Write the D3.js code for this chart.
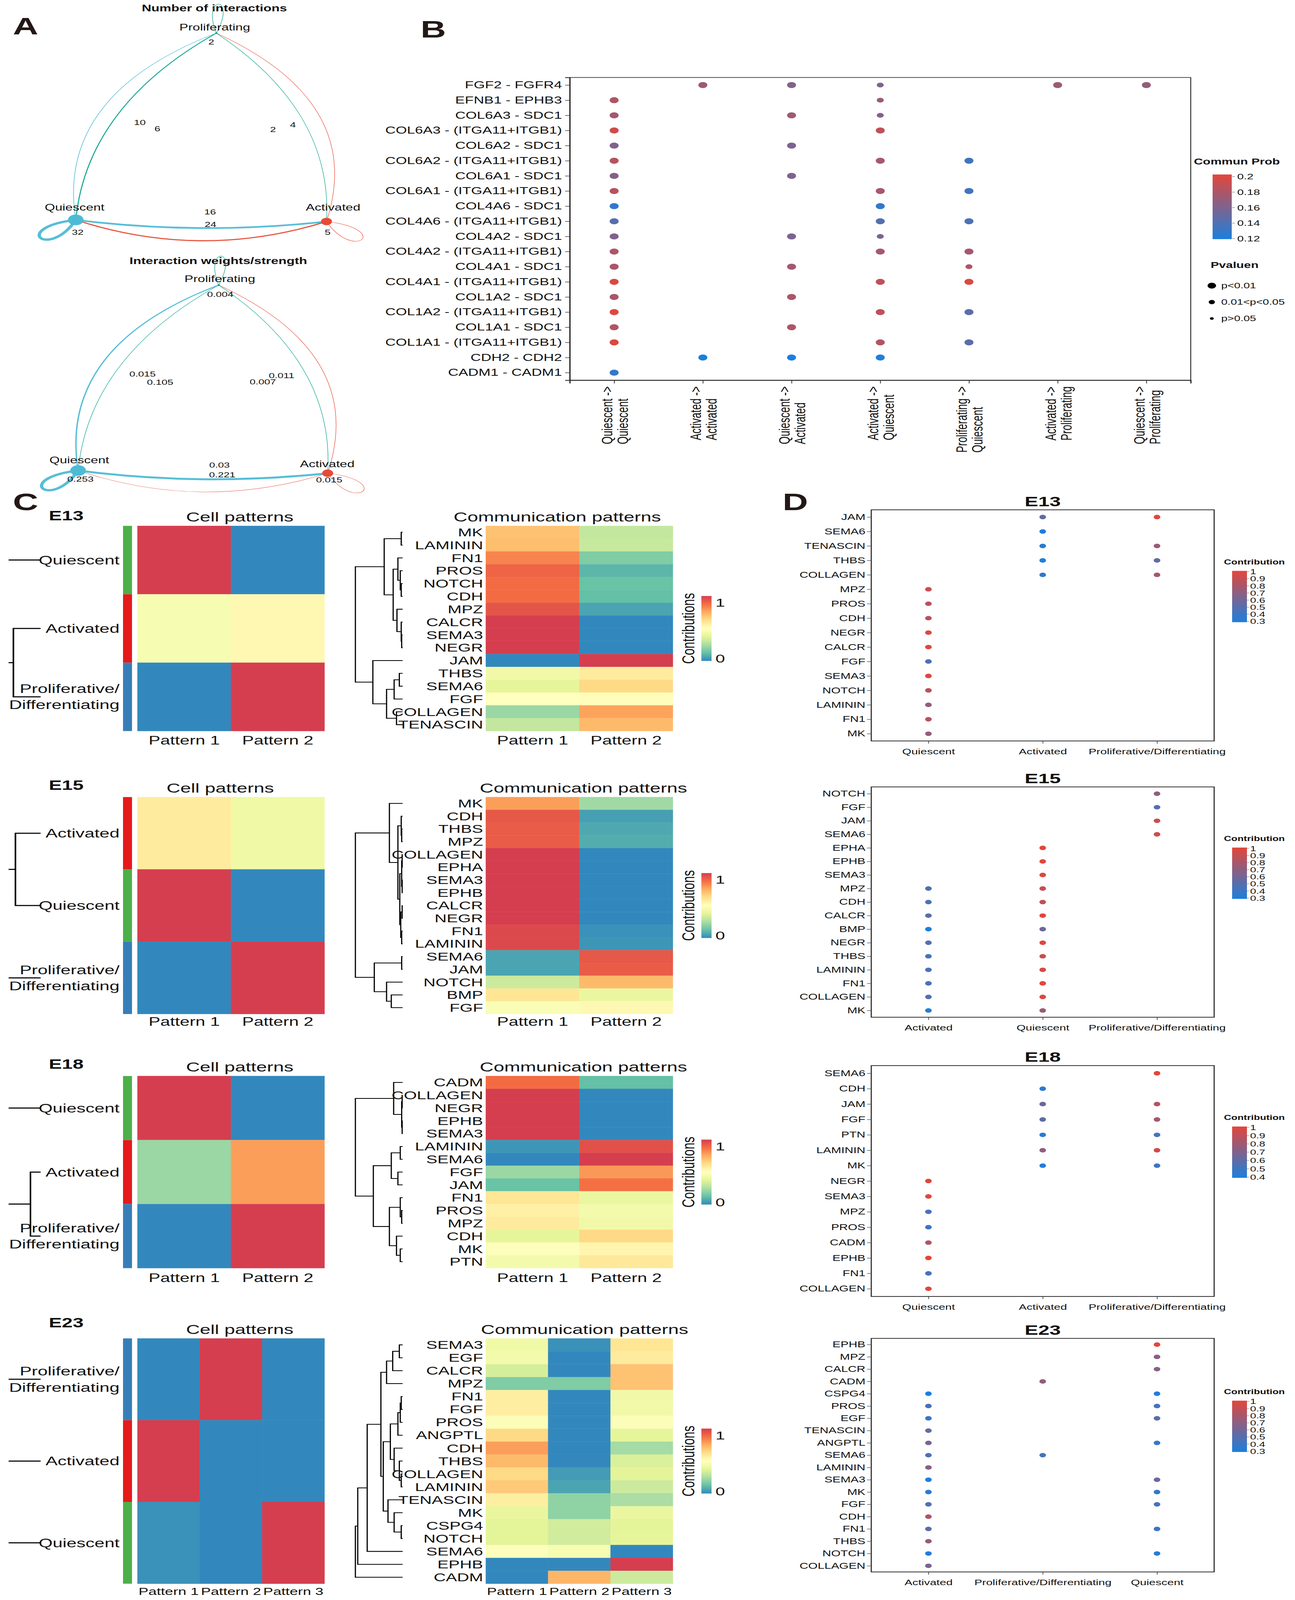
<!DOCTYPE html>
<html><head><meta charset="utf-8">
<script src="https://cdn.jsdelivr.net/npm/d3@7"></script>
<style>html,body{margin:0;padding:0;background:#fff;overflow:hidden}svg{display:block}</style>
</head><body><script>
// ===================== DATA =====================
// Panel A: cell-cell communication network
const netGroups = ["Quiescent","Activated","Proliferating"];
const netColors = ["#4DBBD5","#E64B35","#00A087"];
const netGroupSize = [1, 0.49, 0.0225];
const edgeSource = ["Quiescent","Quiescent","Activated","Proliferating","Quiescent","Activated","Proliferating","Activated","Proliferating"];
const edgeTarget = ["Quiescent","Activated","Quiescent","Quiescent","Proliferating","Proliferating","Activated","Activated","Proliferating"];
const edgeCount  = [32, 24, 16, 10, 6, 4, 2, 5, 2];
const edgeWeight = [0.253, 0.221, 0.03, 0.015, 0.105, 0.011, 0.007, 0.015, 0.004];

// Panel B: L-R bubble plot
const lrPairs = ["FGF2 - FGFR4","EFNB1 - EPHB3","COL6A3 - SDC1","COL6A3 - (ITGA11+ITGB1)","COL6A2 - SDC1","COL6A2 - (ITGA11+ITGB1)","COL6A1 - SDC1","COL6A1 - (ITGA11+ITGB1)","COL4A6 - SDC1","COL4A6 - (ITGA11+ITGB1)","COL4A2 - SDC1","COL4A2 - (ITGA11+ITGB1)","COL4A1 - SDC1","COL4A1 - (ITGA11+ITGB1)","COL1A2 - SDC1","COL1A2 - (ITGA11+ITGB1)","COL1A1 - SDC1","COL1A1 - (ITGA11+ITGB1)","CDH2 - CDH2","CADM1 - CADM1"];
const lrCellPairs = ["Quiescent -> Quiescent","Activated -> Activated","Quiescent -> Activated","Activated -> Quiescent","Proliferating -> Quiescent","Activated -> Proliferating","Quiescent -> Proliferating"];
const lrProb = [
 [null,0.172,0.160,0.160,null,0.172,0.168],
 [0.180,null,null,0.172,null,null,null],
 [0.175,null,0.172,0.162,null,null,null],
 [0.192,null,null,0.185,null,null,null],
 [0.160,null,0.158,null,null,null,null],
 [0.182,null,null,0.175,0.135,null,null],
 [0.162,null,0.160,null,null,null,null],
 [0.182,null,null,0.175,0.135,null,null],
 [0.128,null,null,0.128,null,null,null],
 [0.143,null,null,0.143,0.140,null,null],
 [0.160,null,0.158,0.158,null,null,null],
 [0.178,null,null,0.175,0.175,null,null],
 [0.177,null,0.175,null,0.178,null,null],
 [0.195,null,null,0.185,0.195,null,null],
 [0.178,null,0.178,null,null,null,null],
 [0.198,null,null,0.185,0.145,null,null],
 [0.180,null,0.178,null,null,null,null],
 [0.198,null,null,0.180,0.145,null,null],
 [null,0.120,0.120,0.122,null,null,null],
 [0.130,null,null,null,null,null,null]
];
// 1: p<0.01, 2: 0.01<p<0.05
const lrPval = [
 [0,1,1,2,0,1,1],[1,0,0,2,0,0,0],[1,0,1,2,0,0,0],[1,0,0,1,0,0,0],[1,0,1,0,0,0,0],
 [1,0,0,1,1,0,0],[1,0,1,0,0,0,0],[1,0,0,1,1,0,0],[1,0,0,1,0,0,0],[1,0,0,1,1,0,0],
 [1,0,1,2,0,0,0],[1,0,0,1,1,0,0],[1,0,1,0,2,0,0],[1,0,0,1,1,0,0],[1,0,1,0,0,0,0],
 [1,0,0,1,1,0,0],[1,0,1,0,0,0,0],[1,0,0,1,1,0,0],[0,1,1,1,0,0,0],[1,0,0,0,0,0,0]
];
const lrProbTicks = [0.12,0.14,0.16,0.18,0.2];
const lrPvalLabels = ["p<0.01","0.01<p<0.05","p>0.05"];

// Panel C / D data per stage
const e13CellRows = ["Quiescent","Activated","Proliferative/Differentiating"];
const e13CellP1 = [1, 0.46, 0];
const e13CellP2 = [0, 0.53, 1];
const e13CommSignals = ["MK","LAMININ","FN1","PROS","NOTCH","CDH","MPZ","CALCR","SEMA3","NEGR","JAM","THBS","SEMA6","FGF","COLLAGEN","TENASCIN"];
const e13CommP1 = [0.70,0.71,0.83,0.90,0.88,0.88,0.94,1,1,1,0,0.43,0.38,0.50,0.22,0.30];
const e13CommP2 = [0.30,0.31,0.17,0.10,0.13,0.12,0.06,0,0,0,1,0.58,0.64,0.51,0.77,0.72];
const e13CommTree = [1,[0.39,[0.03,0,1],[0.2,[0.1,2,[0.05,3,[0.03,4,5]]],[0.12,6,[0.03,7,[0.02,8,9]]]]],[0.63,10,[0.34,[0.18,[0.07,11,12],13],[0.13,14,15]]]];
const e13CellTree = [1,0,[0.67,1,2]];
const e13DotSignals = ["JAM","SEMA6","TENASCIN","THBS","COLLAGEN","MPZ","PROS","CDH","NEGR","CALCR","FGF","SEMA3","NOTCH","LAMININ","FN1","MK"];
const e13DotGroups = ["Quiescent","Activated","Proliferative/Differentiating"];
const e13DotQuiescent = [null,null,null,null,null,0.92,0.85,0.85,0.97,0.98,0.48,0.98,0.86,0.72,0.85,0.72];
const e13DotActivated = [0.55,0.30,0.35,0.31,0.38,null,null,null,null,null,null,null,null,null,null,null];
const e13DotProlif    = [1.0,null,0.75,0.55,0.78,null,null,null,null,null,null,null,null,null,null,null];

const e15CellRows = ["Activated","Quiescent","Proliferative/Differentiating"];
const e15CellP1 = [0.58, 1, 0];
const e15CellP2 = [0.42, 0, 1];
const e15CommSignals = ["MK","CDH","THBS","MPZ","COLLAGEN","EPHA","SEMA3","EPHB","CALCR","NEGR","FN1","LAMININ","SEMA6","JAM","NOTCH","BMP","FGF"];
const e15CommP1 = [0.78,0.93,0.92,0.92,1,1,1,1,1,1,0.97,0.97,0.06,0.06,0.32,0.60,0.47];
const e15CommP2 = [0.23,0.05,0.07,0.08,0,0,0,0,0,0,0.02,0.03,0.93,0.92,0.72,0.40,0.53];
const e15CommTree = [1,[0.28,0,[0.1,[0.03,1,[0.02,2,3]],[0.06,[0.02,[0.01,4,5],[0.01,6,7]],[0.04,[0.01,8,9],[0.02,10,11]]]]],[0.6,[0.02,12,13],[0.34,14,[0.24,15,16]]]];
const e15CellTree = [1,[0.62,0,1],2];
const e15DotSignals = ["NOTCH","FGF","JAM","SEMA6","EPHA","EPHB","SEMA3","MPZ","CDH","CALCR","BMP","NEGR","THBS","LAMININ","FN1","COLLAGEN","MK"];
const e15DotGroups = ["Activated","Quiescent","Proliferative/Differentiating"];
const e15DotActivated = [null,null,null,null,null,null,null,0.48,0.47,0.52,0.30,0.50,0.45,0.47,0.47,0.50,0.33];
const e15DotQuiescent = [null,null,null,null,1,1,0.98,0.90,0.88,0.98,0.58,0.98,0.90,0.95,0.98,0.98,0.75];
const e15DotProlif    = [0.70,0.50,0.92,0.92,null,null,null,null,null,null,null,null,null,null,null,null,null];

const e18CellRows = ["Quiescent","Activated","Proliferative/Differentiating"];
const e18CellP1 = [1, 0.22, 0];
const e18CellP2 = [0, 0.78, 1];
const e18CommSignals = ["CADM","COLLAGEN","NEGR","EPHB","SEMA3","LAMININ","SEMA6","FGF","JAM","FN1","PROS","MPZ","CDH","MK","PTN"];
const e18CommP1 = [0.88,1,1,1,1,0.03,0,0.22,0.13,0.60,0.56,0.58,0.38,0.49,0.44];
const e18CommP2 = [0.12,0,0,0,0,0.95,1,0.79,0.87,0.40,0.44,0.43,0.64,0.54,0.59];
const e18CommTree = [1,[0.19,0,[0.02,[0.01,1,2],[0.01,3,4]]],[0.62,[0.24,[0.05,5,6],[0.1,7,8]],[0.28,[0.05,9,[0.02,10,11]],[0.13,12,[0.05,13,14]]]]];
const e18CellTree = [1,0,[0.25,1,2]];
const e18DotSignals = ["SEMA6","CDH","JAM","FGF","PTN","LAMININ","MK","NEGR","SEMA3","MPZ","PROS","CADM","EPHB","FN1","COLLAGEN"];
const e18DotGroups = ["Quiescent","Activated","Proliferative/Differentiating"];
const e18DotQuiescent = [null,null,null,null,null,null,null,1,1,0.53,0.50,0.85,1,0.53,1];
const e18DotActivated = [null,0.45,0.65,0.60,0.42,0.75,0.42,null,null,null,null,null,null,null,null];
const e18DotProlif    = [1,null,0.85,0.80,0.52,0.95,0.50,null,null,null,null,null,null,null,null];

const e23CellRows = ["Proliferative/Differentiating","Activated","Quiescent"];
const e23CellP1 = [0, 1, 0.02];
const e23CellP2 = [1, 0, 0];
const e23CellP3 = [0, 0, 1];
const e23CommSignals = ["SEMA3","EGF","CALCR","MPZ","FN1","FGF","PROS","ANGPTL","CDH","THBS","COLLAGEN","LAMININ","TENASCIN","MK","CSPG4","NOTCH","SEMA6","EPHB","CADM"];
const e23CommP1 = [0.42,0.44,0.34,0.17,0.57,0.57,0.48,0.64,0.78,0.72,0.64,0.68,0.57,0.39,0.37,0.37,0.49,0,0];
const e23CommP2 = [0.02,0,0,0.17,0,0,0,0,0,0,0.04,0.06,0.20,0.20,0.33,0.33,0.46,0,0.73];
const e23CommP3 = [0.60,0.58,0.70,0.70,0.43,0.43,0.48,0.38,0.24,0.35,0.37,0.32,0.25,0.40,0.37,0.38,0,1,0.32];
const e23CommTree = [1,[0.95,[0.75,[0.46,[0.34,[0.21,[0.07,0,1],2],3],[0.41,[0.26,[0.1,[0.05,[0.03,4,5],6],7],[0.18,8,[0.07,9,[0.03,10,11]]]],[0.31,12,[0.18,13,[0.03,14,15]]]]],16],17],18];
const e23CellTree = [1,[0.9,0,1],2];
const e23DotSignals = ["EPHB","MPZ","CALCR","CADM","CSPG4","PROS","EGF","TENASCIN","ANGPTL","SEMA6","LAMININ","SEMA3","MK","FGF","CDH","FN1","THBS","NOTCH","COLLAGEN"];
const e23DotGroups = ["Activated","Proliferative/Differentiating","Quiescent"];
const e23DotActivated = [null,null,null,null,0.30,0.47,0.40,0.55,0.62,0.47,0.68,0.32,0.35,0.50,0.82,0.52,0.72,0.32,0.63];
const e23DotProlif    = [null,null,null,0.72,null,null,null,null,null,0.45,null,null,null,null,null,null,null,null,null];
const e23DotQuiescent = [1,0.68,0.68,null,0.32,0.45,0.52,null,0.38,null,null,0.58,0.38,0.45,null,0.42,null,0.33,null];

// ===================== STYLE / LAYOUT =====================
const W = 3316, H = 5988;
// fit the whole figure into the visible viewport (identity when the viewport is 3316x5988)
const VH = (window.innerHeight >= 1000 && window.innerHeight < H) ? window.innerHeight : H;
const FONT = '"Liberation Sans", Arial, Helvetica, sans-serif';
const TXT = "#111";
const BLUE = "#1c7fdd", RED = "#e3463b";
const spectral9 = ["#3288BD","#66C2A5","#ABDDA4","#E6F598","#FFFFBF","#FEE08B","#FDAE61","#F46D43","#D53E4F"];
const heatColor = d3.scaleLinear().domain(d3.range(9).map(i => i/8)).range(spectral9).clamp(true);
const cellGroupColor = {"Quiescent":"#4DAF4A","Activated":"#E41A1C","Proliferative/Differentiating":"#377EB8"};

const svg = d3.select("body").append("svg").attr("width",W).attr("height",VH)
  .attr("viewBox",`0 0 ${W} ${H}`).attr("preserveAspectRatio","none").style("font-family",FONT);
svg.append("rect").attr("width",W).attr("height",H).attr("fill","#fff");
const defs = svg.append("defs");

function vGradient(id, colorAt){
  const gr = defs.append("linearGradient").attr("id",id).attr("x1",0).attr("y1",1).attr("x2",0).attr("y2",0);
  d3.range(0,1.0001,0.05).forEach(t => gr.append("stop").attr("offset",t).attr("stop-color",colorAt(t)));
}
const dotInterp = d3.interpolateRgb(BLUE, RED);
vGradient("gradDot", t => dotInterp(t));
vGradient("gradSpec", t => heatColor(t));

// panel letters
const panelLetters = ["A","B","C","D"];
const panelLetterPos = [[33,128],[1077,140],[33,1909],[2004,1909]];
panelLetters.forEach((l,i) => svg.append("text").attr("x",panelLetterPos[i][0]).attr("y",panelLetterPos[i][1])
  .attr("font-size",90).attr("font-weight","bold").attr("fill","#231815").text(l));

// ===================== PANEL A =====================
const netLayouts = [
  {title:"Number of interactions", titleX:549, titleY:43,
   nodes:[[194,823],[836,829],[554,124]], nodeLab:[[-3,-35],[17,-41],[-4,-10]],
   values: edgeCount, fmt: d3.format("d"),
   lab:[[5,56],[24,24],[23,-24],[-16,-5.5],[29,17.5],[55,0.5],[4,17.5],[3,50],[-13,43]]},
  {title:"Interaction weights/strength", titleX:559, titleY:988,
   nodes:[[200,1761],[839,1771],[560,1067]], nodeLab:[[3,-27],[-1,-22],[3,-12]],
   values: edgeWeight, fmt: d => String(d),
   lab:[[6,42],[49.5,21],[42.5,-16],[-15,-5],[30,26],[21.5,-4],[-26.5,20],[4,34],[4,44]]}
];
const edgeBend = [0, 55, 150, 170, 260, 260, 170, 0, 0];
const loopCtrl = [[[-170,30],[-70,150]], [[70,150],[170,30]], [[-40,-145],[55,-145]]];

function drawNetwork(L){
  const g = svg.append("g");
  const P = L.nodes;
  const cxm = d3.mean(P, p => p[0]), cym = d3.mean(P, p => p[1]);
  const wS = d3.scaleLinear().domain([0, d3.max(L.values)]).range([0, 8.5]);
  const rS = d3.scaleSqrt().domain([0,1]).range([0,20]);
  g.append("text").attr("x",L.titleX).attr("y",L.titleY).attr("text-anchor","middle")
    .attr("font-size",34).attr("font-weight","bold").attr("fill",TXT).text(L.title);
  const labels = [];
  L.values.forEach((v,i) => {
    const si = netGroups.indexOf(edgeSource[i]), ti = netGroups.indexOf(edgeTarget[i]);
    const s = P[si], t = P[ti];
    let d, lx, ly;
    if (si === ti){
      const [c1,c2] = loopCtrl[si];
      d = `M${s[0]},${s[1]} C${s[0]+c1[0]},${s[1]+c1[1]} ${s[0]+c2[0]},${s[1]+c2[1]} ${s[0]},${s[1]}`;
      lx = s[0] + L.lab[i][0]; ly = s[1] + L.lab[i][1];
    } else {
      const mx = (s[0]+t[0])/2, my = (s[1]+t[1])/2;
      const dx = t[0]-s[0], dy = t[1]-s[1], len = Math.hypot(dx,dy);
      let nx = -dy/len, ny = dx/len;
      if ((mx-cxm)*nx + (my-cym)*ny < 0){ nx = -nx; ny = -ny; }
      const c = [mx + nx*edgeBend[i], my + ny*edgeBend[i]];
      d = `M${s[0]},${s[1]} Q${c[0]},${c[1]} ${t[0]},${t[1]}`;
      lx = mx + L.lab[i][0]; ly = my + L.lab[i][1];
    }
    g.append("path").attr("d",d).attr("fill","none").attr("stroke",netColors[si])
      .attr("stroke-width",Math.max(1.3, wS(v))).attr("stroke-linecap","round").attr("opacity",0.95);
    labels.push({x:lx, y:ly, t:L.fmt(v)});
  });
  netGroups.forEach((n,i) => {
    g.append("circle").attr("cx",P[i][0]).attr("cy",P[i][1]).attr("r",Math.max(3,rS(netGroupSize[i])))
      .attr("fill",netColors[i]);
    g.append("text").attr("x",P[i][0]+L.nodeLab[i][0]).attr("y",P[i][1]+L.nodeLab[i][1])
      .attr("text-anchor","middle").attr("font-size",34).attr("fill",TXT).text(n);
  });
  labels.forEach(l => g.append("text").attr("x",l.x).attr("y",l.y).attr("text-anchor","middle")
    .attr("font-size",27).attr("fill",TXT).text(l.t));
}
netLayouts.forEach(drawNetwork);

// ===================== PANEL B =====================
(function(){
  const g = svg.append("g");
  const x0 = 1459, x1 = 3049, y0 = 290, y1 = 1423;
  const xB = d3.scalePoint().domain(lrCellPairs).range([x0,x1]).padding(0.5);
  const yB = d3.scalePoint().domain(lrPairs).range([y0,y1]).padding(0.5);
  const colB = d3.scaleLinear().domain([0.12,0.2]).range([BLUE,RED]).interpolate(d3.interpolateRgb).clamp(true);
  const rB = d3.scaleOrdinal().domain([1,2,3]).range([11.5,9,6]);
  lrPairs.forEach((p,i) => lrCellPairs.forEach((c,j) => {
    const v = lrProb[i][j];
    if (v == null) return;
    g.append("circle").attr("cx",xB(c)).attr("cy",yB(p)).attr("r",rB(lrPval[i][j])).attr("fill",colB(v));
  }));
  g.append("rect").attr("x",x0).attr("y",y0).attr("width",x1-x0).attr("height",y1-y0)
    .attr("fill","none").attr("stroke","#333").attr("stroke-width",2.5);
  const ay = g.append("g").attr("transform",`translate(${x0},0)`).call(d3.axisLeft(yB).tickSize(12).tickPadding(8));
  ay.select(".domain").attr("stroke","#222").attr("stroke-width",3);
  ay.selectAll(".tick line").attr("stroke","#333").attr("stroke-width",2);
  ay.selectAll("text").attr("font-size",37).attr("fill",TXT).attr("font-family",FONT);
  const ax = g.append("g").attr("transform",`translate(0,${y1})`).call(d3.axisBottom(xB).tickSize(12).tickFormat(""));
  ax.select(".domain").attr("stroke","#222").attr("stroke-width",3);
  ax.selectAll(".tick line").attr("stroke","#333").attr("stroke-width",2);
  lrCellPairs.forEach(lbl => {
    const parts = lbl.split(" -> ");
    const lines = [parts[0] + " ->", parts[1]];
    const x = xB(lbl);
    const ts = lines.map(s => g.append("text").attr("font-size",38).attr("fill",TXT).text(s));
    const L = d3.max(ts, t => t.node().getComputedTextLength());
    const yb = y1 + 23 + L;
    ts[0].attr("transform",`translate(${x},${yb}) rotate(-90)`).attr("y",-18+0.35*38);
    ts[1].attr("transform",`translate(${x},${yb}) rotate(-90)`).attr("y",22+0.35*38);
  });
  // legend
  g.append("text").attr("x",3057).attr("y",615).attr("font-size",32).attr("font-weight","bold").attr("fill",TXT).text("Commun Prob");
  g.append("rect").attr("x",3105).attr("y",653).attr("width",49).attr("height",242).attr("fill","url(#gradDot)");
  const yL = d3.scaleLinear().domain([0.12,0.2]).range([893,661]);
  lrProbTicks.forEach(v => {
    g.append("line").attr("x1",3155).attr("x2",3162).attr("y1",yL(v)).attr("y2",yL(v)).attr("stroke","#666").attr("stroke-width",1.5);
    g.append("text").attr("x",3168).attr("y",yL(v)).attr("dy","0.35em").attr("font-size",30).attr("fill",TXT).text(d3.format("~g")(v));
  });
  g.append("text").attr("x",3100).attr("y",1003).attr("font-size",32).attr("font-weight","bold").attr("fill",TXT).text("Pvaluen");
  const legY = d3.scalePoint().domain(lrPvalLabels).range([1069,1192]);
  lrPvalLabels.forEach((l,i) => {
    g.append("circle").attr("cx",3103).attr("cy",legY(l)).attr("r",[11,8,5][i]).attr("fill","#000");
    g.append("text").attr("x",3127).attr("y",legY(l)).attr("dy","0.35em").attr("font-size",29).attr("fill",TXT).text(l);
  });
})();

// ===================== PANELS C & D =====================
const stages = [
  {name:"E13", nameY:1948, top:1968, bottom:2736, cellTitleX:614, commTitleX:1427, patFont:45, patDy:50,
   cellRows:e13CellRows, cellCols:[e13CellP1,e13CellP2], cellTree:e13CellTree,
   commSignals:e13CommSignals, commCols:[e13CommP1,e13CommP2], commTree:e13CommTree,
   dTop:1908, dBottom:2773, dotSignals:e13DotSignals, dotGroups:e13DotGroups,
   dotCols:[e13DotQuiescent,e13DotActivated,e13DotProlif], dotLo:0.3},
  {name:"E15", nameY:2956, top:2983, bottom:3795, cellTitleX:564, commTitleX:1494, patFont:45, patDy:44,
   cellRows:e15CellRows, cellCols:[e15CellP1,e15CellP2], cellTree:e15CellTree,
   commSignals:e15CommSignals, commCols:[e15CommP1,e15CommP2], commTree:e15CommTree,
   dTop:2945, dBottom:3807, dotSignals:e15DotSignals, dotGroups:e15DotGroups,
   dotCols:[e15DotActivated,e15DotQuiescent,e15DotProlif], dotLo:0.3},
  {name:"E18", nameY:4000, top:4027, bottom:4746, cellTitleX:614, commTitleX:1494, patFont:45, patDy:52,
   cellRows:e18CellRows, cellCols:[e18CellP1,e18CellP2], cellTree:e18CellTree,
   commSignals:e18CommSignals, commCols:[e18CommP1,e18CommP2], commTree:e18CommTree,
   dTop:3988, dBottom:4852, dotSignals:e18DotSignals, dotGroups:e18DotGroups,
   dotCols:[e18DotQuiescent,e18DotActivated,e18DotProlif], dotLo:0.4},
  {name:"E23", nameY:4968, top:5009, bottom:5927, cellTitleX:614, commTitleX:1497, patFont:38, patDy:42,
   cellRows:e23CellRows, cellCols:[e23CellP1,e23CellP2,e23CellP3], cellTree:e23CellTree,
   commSignals:e23CommSignals, commCols:[e23CommP1,e23CommP2,e23CommP3], commTree:e23CommTree,
   dTop:5009, dBottom:5883, dotSignals:e23DotSignals, dotGroups:e23DotGroups,
   dotCols:[e23DotActivated,e23DotProlif,e23DotQuiescent], dotLo:0.3}
];

defs.append("clipPath").attr("id","cellTreeClip").append("rect").attr("x",22).attr("y",0).attr("width",300).attr("height",H);

function drawTree(g, tree, leafY, xLeaf, xRoot, sw){
  const xh = h => xLeaf - h*(xLeaf - xRoot);
  function rec(node){
    if (typeof node === "number") return {x:xLeaf, y:leafY(node)};
    const A = rec(node[1]), B = rec(node[2]), x = xh(node[0]);
    g.append("path").attr("d",`M${A.x},${A.y}H${x}V${B.y}H${B.x}`).attr("fill","none")
      .attr("stroke","#000").attr("stroke-width",sw);
    return {x, y:(A.y+B.y)/2};
  }
  rec(tree);
}

function drawStage(st){
  const g = svg.append("g");
  g.append("text").attr("x",125).attr("y",st.nameY).attr("font-size",50).attr("font-weight","bold").attr("fill",TXT).text(st.name);
  g.append("text").attr("x",st.cellTitleX).attr("y",st.top-17).attr("text-anchor","middle").attr("font-size",49).attr("fill",TXT).text("Cell patterns");
  g.append("text").attr("x",st.commTitleX).attr("y",st.top-17).attr("text-anchor","middle").attr("font-size",49).attr("fill",TXT).text("Communication patterns");
  const pats = st.cellCols.map((_,j) => "Pattern " + (j+1));

  // cell heatmap
  const xc = d3.scaleBand().domain(pats).range([352,831]);
  const yc = d3.scaleBand().domain(st.cellRows).range([st.top,st.bottom]);
  st.cellRows.forEach((r,i) => pats.forEach((p,j) => {
    const c = heatColor(st.cellCols[j][i]);
    g.append("rect").attr("x",xc(p)).attr("y",yc(r)).attr("width",xc.bandwidth()).attr("height",yc.bandwidth())
      .attr("fill",c).attr("stroke",c).attr("stroke-width",0.6);
  }));
  st.cellRows.forEach(r => g.append("rect").attr("x",315).attr("y",yc(r)).attr("width",23).attr("height",yc.bandwidth())
    .attr("fill",cellGroupColor[r]));
  const tg = g.append("g").attr("clip-path","url(#cellTreeClip)");
  drawTree(tg, st.cellTree, i => yc(st.cellRows[i]) + yc.bandwidth()/2, 104, 0, 4);
  st.cellRows.forEach(r => {
    const cy = yc(r) + yc.bandwidth()/2;
    const lines = r.includes("/") ? [r.split("/")[0] + "/", r.split("/")[1]] : [r];
    lines.forEach((s,k) => {
      const off = lines.length === 1 ? 0 : (k === 0 ? -30 : 30);
      g.append("text").attr("x",306).attr("y",cy+off).attr("dy","0.35em").attr("text-anchor","end")
        .attr("font-size",46).attr("fill",TXT).text(s);
    });
  });
  pats.forEach(p => g.append("text").attr("x",xc(p)+xc.bandwidth()/2).attr("y",st.bottom+st.patDy).attr("text-anchor","middle")
    .attr("font-size",st.patFont).attr("fill",TXT).text(p));

  // communication heatmap
  const xm = d3.scaleBand().domain(pats).range([1244,1723]);
  const ym = d3.scaleBand().domain(st.commSignals).range([st.top,st.bottom]);
  st.commSignals.forEach((s,i) => pats.forEach((p,j) => {
    const c = heatColor(st.commCols[j][i]);
    g.append("rect").attr("x",xm(p)).attr("y",ym(s)).attr("width",xm.bandwidth()).attr("height",ym.bandwidth())
      .attr("fill",c).attr("stroke",c).attr("stroke-width",0.6);
  }));
  drawTree(g, st.commTree, i => ym(st.commSignals[i]) + ym.bandwidth()/2, 1031, 910, 3);
  st.commSignals.forEach(s => g.append("text").attr("x",1237).attr("y",ym(s)+ym.bandwidth()/2).attr("dy","0.35em")
    .attr("text-anchor","end").attr("font-size",43).attr("fill",TXT).text(s));
  pats.forEach(p => g.append("text").attr("x",xm(p)+xm.bandwidth()/2).attr("y",st.bottom+st.patDy).attr("text-anchor","middle")
    .attr("font-size",st.patFont).attr("fill",TXT).text(p));
  // contributions legend
  const mid = (st.top + st.bottom)/2, lh = 243;
  g.append("rect").attr("x",1796).attr("y",mid-lh/2).attr("width",26).attr("height",lh).attr("fill","url(#gradSpec)");
  g.append("text").attr("x",1832).attr("y",mid-lh/2+40).attr("font-size",44).attr("fill",TXT).text("1");
  g.append("text").attr("x",1832).attr("y",mid+lh/2+6).attr("font-size",44).attr("fill",TXT).text("0");
  g.append("text").attr("transform",`translate(1778,${mid}) rotate(-90)`).attr("text-anchor","middle")
    .attr("font-size",45).attr("fill",TXT).text("Contributions");

  // ---------- panel D dot plot ----------
  const dx0 = 2231, dx1 = 3109;
  const xD = d3.scalePoint().domain(st.dotGroups).range([dx0,dx1]).padding(0.5);
  const yD = d3.scalePoint().domain(st.dotSignals).range([st.dTop,st.dBottom]).padding(0.5);
  const colD = d3.scaleLinear().domain([st.dotLo,1]).range([BLUE,RED]).interpolate(d3.interpolateRgb).clamp(true);
  g.append("text").attr("x",(dx0+dx1)/2).attr("y",st.dTop-14).attr("text-anchor","middle").attr("font-size",52)
    .attr("font-weight","bold").attr("fill",TXT).text(st.name);
  st.dotSignals.forEach((s,i) => st.dotGroups.forEach((grp,j) => {
    const v = st.dotCols[j][i];
    if (v == null) return;
    g.append("circle").attr("cx",xD(grp)).attr("cy",yD(s)).attr("r",8.5).attr("fill",colD(v));
  }));
  g.append("rect").attr("x",dx0).attr("y",st.dTop).attr("width",dx1-dx0).attr("height",st.dBottom-st.dTop)
    .attr("fill","none").attr("stroke","#333").attr("stroke-width",3);
  const ay = g.append("g").attr("transform",`translate(${dx0},0)`).call(d3.axisLeft(yD).tickSize(11).tickPadding(4));
  ay.select(".domain").remove();
  ay.selectAll(".tick line").attr("stroke","#444").attr("stroke-width",1.8);
  ay.selectAll("text").attr("font-size",31).attr("fill",TXT).attr("font-family",FONT);
  const ax = g.append("g").attr("transform",`translate(0,${st.dBottom})`).call(d3.axisBottom(xD).tickSize(10).tickPadding(18));
  ax.select(".domain").remove();
  ax.selectAll(".tick line").attr("stroke","#444").attr("stroke-width",1.8);
  ax.selectAll("text").attr("font-size",30).attr("fill",TXT).attr("font-family",FONT);
  // legend
  const gTop = (st.dTop + st.dBottom)/2 - 204, gH = 192;
  g.append("text").attr("x",3134).attr("y",gTop-24).attr("font-size",26).attr("font-weight","bold").attr("fill",TXT)
    .text("Contribution");
  g.append("rect").attr("x",3155).attr("y",gTop).attr("width",38).attr("height",gH).attr("fill","url(#gradDot)");
  const yLg = d3.scaleLinear().domain([st.dotLo,1]).range([gTop+gH-3,gTop+3]);
  d3.range(Math.round(st.dotLo*10), 11).map(k => k/10).forEach(v => {
    g.append("line").attr("x1",3193).attr("x2",3199).attr("y1",yLg(v)).attr("y2",yLg(v)).attr("stroke","#666").attr("stroke-width",1.2);
    g.append("text").attr("x",3201).attr("y",yLg(v)).attr("dy","0.35em").attr("font-size",28).attr("fill",TXT).text(d3.format("~g")(v));
  });
}
stages.forEach(drawStage);
</script></body></html>
